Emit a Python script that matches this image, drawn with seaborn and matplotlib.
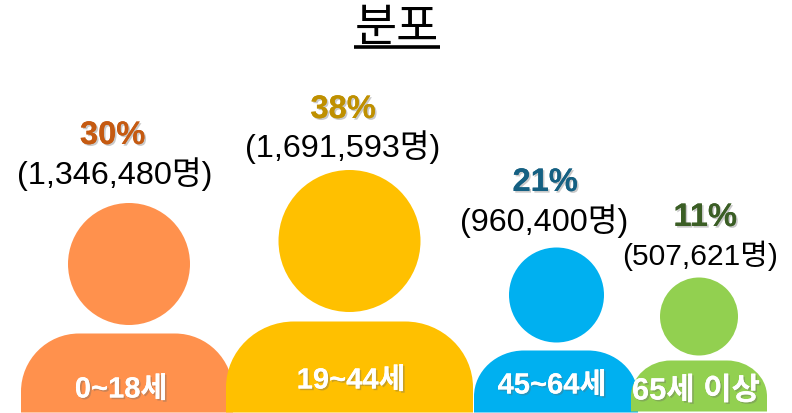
import matplotlib
matplotlib.use("Agg")
import matplotlib.pyplot as plt
import matplotlib.patheffects as pe
from matplotlib.path import Path
from matplotlib.patches import PathPatch
import pandas as pd
import seaborn as sns

sns.set_theme(style="white")
plt.rcParams['font.family'] = ['Liberation Sans', 'Noto Sans CJK KR', 'DejaVu Sans']

# values
ages = ['0~18세', '19~44세', '45~64세', '65세 이상']
shares = [30, 38, 21, 11]
people = [1346480, 1691593, 960400, 507621]

# colours
fill_colors = ['#FF914D', '#FFC000', '#00B0F0', '#92D050']
pct_colors = ['#C55A11', '#BF9000', '#156082', '#3B5E25']

# layout, in pixels of the 792x414 picture
head_x = [129, 349.5, 556.5, 699]
head_y = [264.5, 241.5, 295.5, 317]
head_r = [61, 71, 47.5, 39]
body_left = [21, 226, 474, 631]
body_right = [233, 473, 638, 767]
body_top = [334, 322, 351, 361]
body_bottom = [413, 413, 413, 412]
body_rx = [58, 68, 50, 40]
body_ry = [58, 66, 46, 36]
pct_x = [112.5, 343, 545, 705]
pct_y = [136, 110, 183, 218]
count_x = [115, 343, 544, 700]
count_y = [174, 147, 221, 255]
count_size = [23.3, 23.3, 23.3, 21.6]
age_x = [121, 351, 552, 696]
age_y = [390, 381, 386, 392]
age_size = [21, 21, 21, 22.2]


def body_patch(left, right, top, bottom, rx, ry, color):
    k = 0.55
    verts = [(left, bottom), (left, top + ry),
             (left, top + ry * (1 - k)), (left + rx * (1 - k), top), (left + rx, top),
             (right - rx, top),
             (right - rx * (1 - k), top), (right, top + ry * (1 - k)), (right, top + ry),
             (right, bottom), (left, bottom)]
    codes = [Path.MOVETO, Path.LINETO,
             Path.CURVE4, Path.CURVE4, Path.CURVE4,
             Path.LINETO,
             Path.CURVE4, Path.CURVE4, Path.CURVE4,
             Path.LINETO, Path.CLOSEPOLY]
    return PathPatch(Path(verts, codes), facecolor=color, edgecolor='none')


df = pd.DataFrame({'age': ages, 'x': head_x, 'y': head_y,
                   'size': [(2 * r * 0.72) ** 2 for r in head_r]})

fig, ax = plt.subplots(figsize=(7.92, 4.14), dpi=100)
fig.subplots_adjust(left=0, right=1, top=1, bottom=0)

sns.scatterplot(data=df, x='x', y='y', hue='age', palette=fill_colors, size='size',
                sizes=(df['size'].min(), df['size'].max()), linewidth=0, alpha=1,
                legend=False, ax=ax)

for i in range(len(ages)):
    ax.add_patch(body_patch(body_left[i], body_right[i], body_top[i], body_bottom[i],
                            body_rx[i], body_ry[i], fill_colors[i]))

shadow = [pe.withSimplePatchShadow(offset=(1.2, -1.2), shadow_rgbFace='#666666', alpha=0.35),
          pe.Normal()]

for i in range(len(ages)):
    ax.text(pct_x[i], pct_y[i], f"{shares[i]}%", color=pct_colors[i], fontsize=23.5,
            fontweight='bold', ha='center', va='center', path_effects=shadow)
    ax.text(count_x[i], count_y[i], f"({people[i]:,}명)", color='black', fontsize=count_size[i],
            ha='center', va='center')
    ax.text(age_x[i], age_y[i], ages[i], color='white', fontsize=age_size[i],
            fontweight='bold', ha='center', va='center', path_effects=shadow, zorder=5)

ax.text(397, 29, "분포", color='black', fontsize=33, ha='center', va='center')
ax.plot([354, 440], [47.5, 47.5], color='black', lw=2.6, solid_capstyle='butt')

ax.set_xlim(0, 792)
ax.set_ylim(413.5, -0.5)
ax.axis('off')
fig.savefig("out.png", dpi=100)
